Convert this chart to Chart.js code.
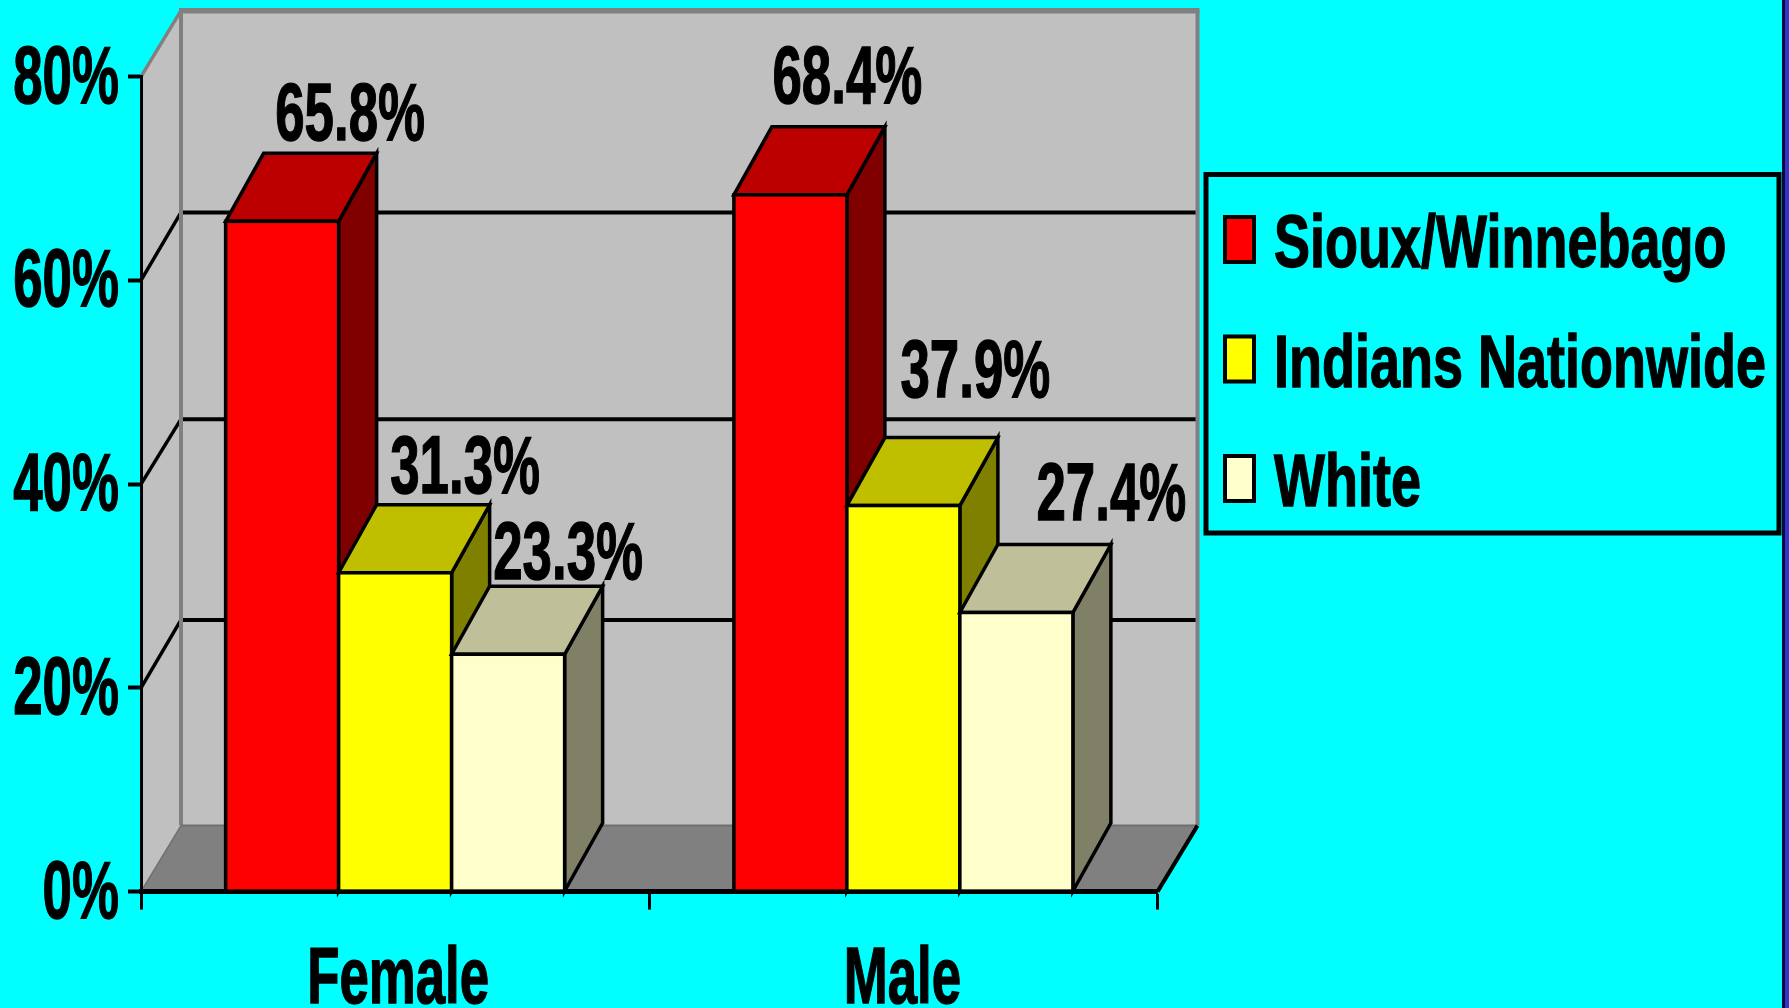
<!DOCTYPE html>
<html>
<head>
<meta charset="utf-8">
<title>Sioux/Winnebago chart</title>
<script src="https://cdn.jsdelivr.net/npm/chart.js@4"></script>
<style>
  html, body { margin: 0; padding: 0; background: #00FFFF; overflow: hidden; }
  canvas { display: block; }
</style>
</head>
<body>
<canvas id="chart" width="1789" height="1008"></canvas>
<script>
// values
const categories = ['Female', 'Male'];
const seriesNames = ['Sioux/Winnebago', 'Indians Nationwide', 'White'];
const siouxValues = [65.8, 68.4];
const indiansValues = [31.3, 37.9];
const whiteValues = [23.3, 27.4];
const yTickValues = [0, 20, 40, 60, 80];

// front, top and side colours of each series
const frontColors = ['#FF0000', '#FFFF00', '#FFFFCC'];
const topColors = ['#BC0000', '#BFBF00', '#BFBF99'];
const sideColors = ['#800000', '#808000', '#808066'];

// the labels do not sit straight over the bars, one nudge per bar [dx, dy]
const labelNudges = [
    [[68, -81], [57, -92]],
    [[70, -80], [72, -109]],
    [[60, -75], [95, -92]]
];
// back wall lines are not quite evenly spaced in the original
const backGridNudges = { 20: -2, 40: 1, 60: -2 };

const FONT = '"Liberation Sans", Arial, sans-serif';
const WALL_DX = 40, WALL_DY = 66;
const BAR_DX = 38, BAR_DY = 68;
const BAR_LINE = 3.5;

const squeezed = (ctx, text, x, y, size, sx, align) => {
    ctx.save();
    ctx.font = `bold ${size}px ${FONT}`;
    ctx.fillStyle = '#000';
    ctx.strokeStyle = '#000';
    ctx.lineWidth = 1.4;
    ctx.textAlign = align;
    ctx.textBaseline = 'alphabetic';
    ctx.translate(x, y);
    ctx.scale(sx, 1);
    ctx.fillText(text, 0, 0);
    ctx.strokeText(text, 0, 0);
    ctx.restore();
};

const polygon = (ctx, pts, fill, stroke, width) => {
    ctx.beginPath();
    pts.forEach((p, i) => i ? ctx.lineTo(p[0], p[1]) : ctx.moveTo(p[0], p[1]));
    ctx.closePath();
    if (fill) {
        ctx.fillStyle = fill;
        ctx.fill();
    }
    if (stroke) {
        ctx.strokeStyle = stroke;
        ctx.lineWidth = width;
        ctx.stroke();
    }
};

const line = (ctx, x1, y1, x2, y2, color, width) => {
    ctx.beginPath();
    ctx.moveTo(x1, y1);
    ctx.lineTo(x2, y2);
    ctx.strokeStyle = color;
    ctx.lineWidth = width;
    ctx.stroke();
};

// walls, floor and gridlines of the fake 3D box
const boxPlugin = {
    id: 'box',
    beforeDraw(chart) {
        const { ctx, chartArea: a, scales: { y } } = chart;
        const backL = a.left + WALL_DX, backR = a.right + WALL_DX;
        const backT = a.top - WALL_DY, backB = a.bottom - WALL_DY;
        ctx.save();
        // slide border on the right edge
        ctx.fillStyle = '#0A0A40';
        ctx.fillRect(1782, 0, 3, 1008);
        ctx.fillStyle = '#3333CC';
        ctx.fillRect(1785, 0, 4, 1008);

        ctx.lineJoin = 'miter';
        polygon(ctx, [[backL, backT], [backR, backT], [backR, backB], [backL, backB]], '#C0C0C0');
        polygon(ctx, [[a.left, a.top], [backL, backT], [backL, backB], [a.left, a.bottom]], '#C0C0C0');
        polygon(ctx, [[a.left, a.bottom], [a.right, a.bottom], [backR, backB], [backL, backB]], '#808080');

        yTickValues.slice(1, -1).forEach(v => {
            const py = y.getPixelForValue(v);
            const backY = py - WALL_DY + backGridNudges[v];
            line(ctx, a.left, py, backL, backY, '#000', 3.5);
            line(ctx, backL, backY, backR, backY, '#000', 4);
        });

        // grey frame of the back wall
        line(ctx, a.left, a.top, backL, backT, '#808080', 3.5);
        line(ctx, backL - 2, backT, backR + 2, backT, '#808080', 5.5);
        line(ctx, backL, backT, backL, backB, '#808080', 4);
        line(ctx, backR, backT, backR, backB, '#808080', 4);
        line(ctx, backL, backB, backR, backB, '#6E6E6E', 2);
        line(ctx, a.left, a.bottom, backL, backB, '#707070', 1.5);
        line(ctx, a.right, a.bottom, backR, backB, '#000', 4);
        ctx.restore();
    },
    // the library would paint the last series first, here each bar has to cover
    // the side of the bar on its left, so they are painted in series order instead
    beforeDatasetDraw() {
        return false;
    },
    afterDatasetsDraw(chart) {
        const ctx = chart.ctx;
        ctx.save();
        ctx.lineJoin = 'miter';
        chart.data.datasets.forEach((ds, d) => {
            chart.getDatasetMeta(d).data.forEach(bar => {
                const l = bar.x - bar.width / 2, r = bar.x + bar.width / 2;
                polygon(ctx, [[r, bar.y], [r + BAR_DX, bar.y - BAR_DY], [r + BAR_DX, bar.base - BAR_DY], [r, bar.base]],
                    sideColors[d], '#000', BAR_LINE);
                polygon(ctx, [[l, bar.y], [l + BAR_DX, bar.y - BAR_DY], [r + BAR_DX, bar.y - BAR_DY], [r, bar.y]],
                    topColors[d], '#000', BAR_LINE);
                bar.draw(ctx);
                ctx.strokeStyle = '#000';
                ctx.lineWidth = BAR_LINE;
                ctx.strokeRect(l, bar.y, bar.width, bar.base - bar.y);
            });
        });
        ctx.restore();
    }
};

// squeezed text: tick labels, value labels and the legend box
const textPlugin = {
    id: 'texts',
    afterDraw(chart) {
        const { ctx, scales: { x, y } } = chart;
        y.ticks.forEach((t, i) => {
            squeezed(ctx, t.label, 119, y.getPixelForTick(i) + 26, 82, 0.645, 'right');
        });
        x.ticks.forEach((t, i) => {
            squeezed(ctx, t.label, x.getPixelForValue(i) + (i === 0 ? 3 : -1), 1003, 80, 0.66, 'center');
        });
        chart.data.datasets.forEach((ds, d) => {
            chart.getDatasetMeta(d).data.forEach((bar, i) => {
                const nudge = labelNudges[d][i];
                squeezed(ctx, ds.data[i].toFixed(1) + '%', bar.x + nudge[0], bar.y + nudge[1], 82, 0.645, 'center');
            });
        });

        // legend
        ctx.save();
        ctx.strokeStyle = '#000';
        ctx.lineWidth = 5;
        ctx.strokeRect(1206, 174.5, 573, 358.5);
        chart.data.datasets.forEach((ds, d) => {
            const rowY = 217 + d * 119.5;
            ctx.fillStyle = ds.backgroundColor;
            ctx.fillRect(1225, rowY, 29, 45);
            ctx.lineWidth = 4;
            ctx.strokeRect(1225, rowY, 29, 45);
            squeezed(ctx, ds.label, 1274, rowY + 50, 75, 0.72, 'left');
        });
        ctx.restore();
    }
};

const seriesValues = [siouxValues, indiansValues, whiteValues];

new Chart(document.getElementById('chart').getContext('2d'), {
    type: 'bar',
    data: {
        labels: categories,
        datasets: seriesNames.map((name, i) => ({
            label: name,
            data: seriesValues[i],
            backgroundColor: frontColors[i],
            borderWidth: 0
        }))
    },
    options: {
        responsive: false,
        animation: false,
        devicePixelRatio: 1,
        categoryPercentage: 0.667,
        barPercentage: 1,
        layout: { padding: { left: 141, right: 631.5, top: 76.7, bottom: 116.4 } },
        plugins: { legend: { display: false }, tooltip: { enabled: false } },
        scales: {
            x: {
                afterFit(s) { s.height = 0; },
                ticks: { display: false },
                grid: { drawOnChartArea: false, tickLength: 18, tickWidth: 3, tickColor: '#000' },
                border: { color: '#000', width: 5 }
            },
            y: {
                min: 0,
                max: 80,
                afterFit(s) { s.width = 0; },
                ticks: { display: false, stepSize: 20, callback: v => v + '%' },
                grid: { drawOnChartArea: false, tickLength: 13, tickWidth: 4, tickColor: '#000' },
                border: { color: '#000', width: 3 }
            }
        }
    },
    plugins: [boxPlugin, textPlugin]
});
</script>
</body>
</html>
